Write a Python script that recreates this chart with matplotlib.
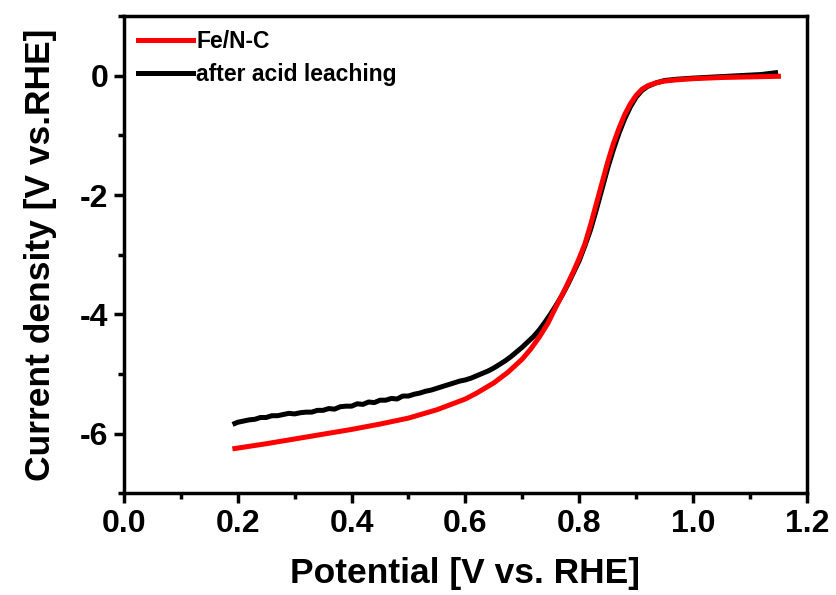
import matplotlib.pyplot as plt
from matplotlib.ticker import MultipleLocator

plt.rcParams['font.family'] = ['Liberation Sans', 'DejaVu Sans']
plt.rcParams['font.weight'] = 'bold'
plt.rcParams['axes.unicode_minus'] = False

# Fe/N-C
x_fenc = [0.195, 0.25, 0.30, 0.35, 0.40, 0.45, 0.50, 0.55, 0.60, 0.62, 0.65,
          0.675, 0.70, 0.715, 0.73, 0.745, 0.76, 0.775, 0.79, 0.80, 0.81, 0.82,
          0.83, 0.84, 0.85, 0.86, 0.87, 0.88, 0.89, 0.90, 0.91, 0.92, 0.935,
          0.95, 0.97, 1.00, 1.05, 1.10, 1.15]
y_fenc = [-6.25, -6.17, -6.09, -6.01, -5.93, -5.84, -5.74, -5.60, -5.42, -5.32, -5.15,
          -4.97, -4.75, -4.58, -4.38, -4.15, -3.86, -3.58, -3.28, -3.06, -2.82, -2.50,
          -2.15, -1.80, -1.45, -1.14, -0.88, -0.65, -0.47, -0.33, -0.23, -0.17, -0.12,
          -0.09, -0.07, -0.05, -0.03, -0.02, -0.01]

# after acid leaching
x_acid = [0.195, 0.20, 0.21, 0.22, 0.23, 0.24, 0.25, 0.26, 0.27, 0.28, 0.29,
          0.30, 0.31, 0.32, 0.33, 0.34, 0.35, 0.36, 0.37, 0.38, 0.39, 0.40,
          0.41, 0.42, 0.43, 0.44, 0.45, 0.46, 0.47, 0.48, 0.49, 0.50, 0.51,
          0.52, 0.53, 0.54, 0.55, 0.56, 0.57, 0.58, 0.59, 0.60, 0.61, 0.62,
          0.63, 0.64, 0.65, 0.66, 0.67, 0.68, 0.69, 0.70, 0.71, 0.72, 0.73,
          0.74, 0.75, 0.76, 0.77, 0.78, 0.79, 0.80, 0.81, 0.82, 0.83, 0.84,
          0.85, 0.86, 0.87, 0.88, 0.89, 0.90, 0.91, 0.92, 0.935, 0.95, 0.97,
          1.00, 1.04, 1.08, 1.12, 1.145]
y_acid = [-5.83, -5.81, -5.79, -5.77, -5.76, -5.73, -5.73, -5.70, -5.70, -5.68, -5.66,
          -5.67, -5.65, -5.64, -5.64, -5.61, -5.61, -5.58, -5.59, -5.55, -5.54, -5.54,
          -5.50, -5.51, -5.47, -5.48, -5.44, -5.44, -5.41, -5.42, -5.37, -5.37, -5.34,
          -5.32, -5.29, -5.27, -5.24, -5.21, -5.18, -5.15, -5.12, -5.10, -5.07, -5.03,
          -4.99, -4.95, -4.90, -4.84, -4.78, -4.71, -4.63, -4.55, -4.46, -4.37, -4.26,
          -4.13, -3.99, -3.84, -3.68, -3.50, -3.30, -3.10, -2.85, -2.58, -2.25, -1.90,
          -1.55, -1.24, -0.96, -0.72, -0.52, -0.36, -0.25, -0.18, -0.12, -0.08, -0.06,
          -0.04, -0.02, 0.00, 0.02, 0.05]

fig = plt.figure(figsize=(8.37, 5.95), dpi=100)
ax = fig.add_axes([0.148, 0.171, 0.816, 0.802])

ax.plot(x_fenc, y_fenc, color='#ff0000', linewidth=3.6, label='Fe/N-C', zorder=3)
ax.plot(x_acid, y_acid, color='black', linewidth=3.6, label='after acid leaching', zorder=2)

ax.set_xlim(0.0, 1.2)
ax.set_ylim(-7, 1)
ax.xaxis.set_major_locator(MultipleLocator(0.2))
ax.xaxis.set_minor_locator(MultipleLocator(0.1))
ax.yaxis.set_minor_locator(MultipleLocator(1))
ax.set_yticks([-6, -4, -2, 0])

for s in ax.spines.values():
    s.set_linewidth(2.5)
ax.tick_params(which='major', direction='out', length=7, width=2.5, labelsize=23, pad=4)
ax.tick_params(which='minor', direction='out', length=4.5, width=2.5)
ax.tick_params(top=False, right=False, which='both')

ax.set_xlabel('Potential [V vs. RHE]', fontsize=25.5, fontweight='bold', labelpad=13)
ax.set_ylabel('Current density [V vs.RHE]', fontsize=25.5, fontweight='bold', labelpad=17)

leg = ax.legend(loc='upper left', frameon=False, fontsize=16.5, handlelength=2.4,
                handletextpad=0.15, borderaxespad=0.2, labelspacing=0.45,
                bbox_to_anchor=(0.0, 1.0))
for t in leg.get_texts():
    t.set_fontweight('bold')

plt.savefig('out.png', dpi=100)
plt.close()
